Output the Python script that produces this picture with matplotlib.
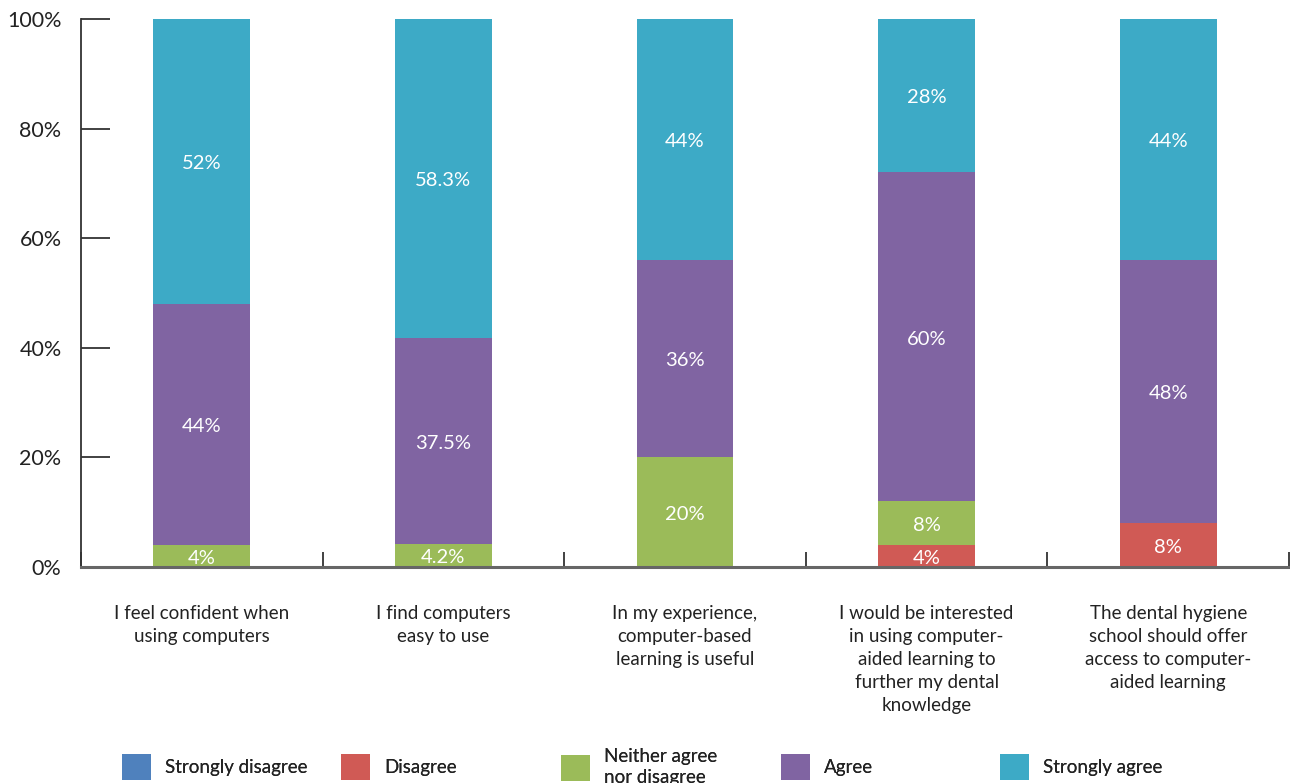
import matplotlib
matplotlib.use("Agg")
import matplotlib.pyplot as plt
from matplotlib.patches import Patch
import numpy as np

plt.rcParams['font.family'] = ['Lato', 'DejaVu Sans']

categories = [
    "I feel confident when\nusing computers",
    "I find computers\neasy to use",
    "In my experience,\ncomputer-based\nlearning is useful",
    "I would be interested\nin using computer-\naided learning to\nfurther my dental\nknowledge",
    "The dental hygiene\nschool should offer\naccess to computer-\naided learning",
]
series_names = ["Strongly disagree", "Disagree", "Neither agree\nnor disagree", "Agree", "Strongly agree"]
strongly_disagree = [0, 0, 0, 0, 0]
disagree = [0, 0, 0, 4, 8]
neither = [4, 4.2, 20, 8, 0]
agree = [44, 37.5, 36, 60, 48]
strongly_agree = [52, 58.3, 44, 28, 44]
value_labels = [
    ["", "", "", "", ""],
    ["", "", "", "4%", "8%"],
    ["4%", "4.2%", "20%", "8%", ""],
    ["44%", "37.5%", "36%", "60%", "48%"],
    ["52%", "58.3%", "44%", "28%", "44%"],
]
yticks = [0, 20, 40, 60, 80, 100]
ytick_labels = ["0%", "20%", "40%", "60%", "80%", "100%"]
colors = ["#4F81BD", "#D05A55", "#9BBB59", "#8064A2", "#3DAAC6"]

series = [strongly_disagree, disagree, neither, agree, strongly_agree]

fig = plt.figure(figsize=(12.9, 7.83), dpi=100)
ax = fig.add_axes([81/1290, 1-567/783, (1289-81)/1290, (567-19)/783])

x = np.arange(len(categories))
bottom = np.zeros(len(categories))
for vals, col, labs in zip(series, colors, value_labels):
    vals = np.array(vals, dtype=float)
    ax.bar(x, vals, width=0.4, bottom=bottom, color=col, edgecolor='none', zorder=2)
    for xi, b, v, lab in zip(x, bottom, vals, labs):
        if v > 0 and lab:
            ax.text(xi, b + v/2 - 0.4, lab, ha='center', va='center', color='white',
                    fontsize=14.5, zorder=3)
    bottom += vals

ax.set_xlim(-0.5, len(categories) - 0.5)
ax.set_ylim(0, 100)
for s in ['top', 'right']:
    ax.spines[s].set_visible(False)
ax.spines['left'].set_color('#333333')
ax.spines['left'].set_linewidth(1.3)
ax.spines['bottom'].set_color('#666666')
ax.spines['bottom'].set_linewidth(2.2)
ax.spines['bottom'].set_zorder(4)

ax.set_yticks(yticks)
ax.set_yticklabels(ytick_labels, fontsize=15.5, color='#222222')
ax.tick_params(axis='y', direction='in', length=21, width=1.3, color='#333333', pad=14)

# boundary ticks on x axis
ax.set_xticks(np.arange(-0.5, len(categories) + 0.5, 1.0))
ax.set_xticklabels([])
ax.tick_params(axis='x', direction='in', length=11, width=1.3, color='#333333')

for xi, cat in zip(x, categories):
    ax.text(xi, -7.0, cat, ha='center', va='top', fontsize=13.5, color='#222222',
            linespacing=1.42, transform=ax.transData, clip_on=False)

# legend: five single-entry legends evenly spaced
sq_left = [122, 341, 561, 781, 1000]
for name, col, xl in zip(series_names, colors, sq_left):
    leg = fig.legend(handles=[Patch(facecolor=col, edgecolor='none')], labels=[name],
                     loc='center left', bbox_to_anchor=(xl/1290, 1 - 767/783),
                     frameon=False, fontsize=13.5, handlelength=1.55, handleheight=1.7,
                     handletextpad=0.75, borderpad=0, borderaxespad=0)
    for t in leg.get_texts():
        t.set_color('#222222')
        t.set_linespacing(1.35)
    fig.add_artist(leg)

fig.savefig("out.png", dpi=100)
